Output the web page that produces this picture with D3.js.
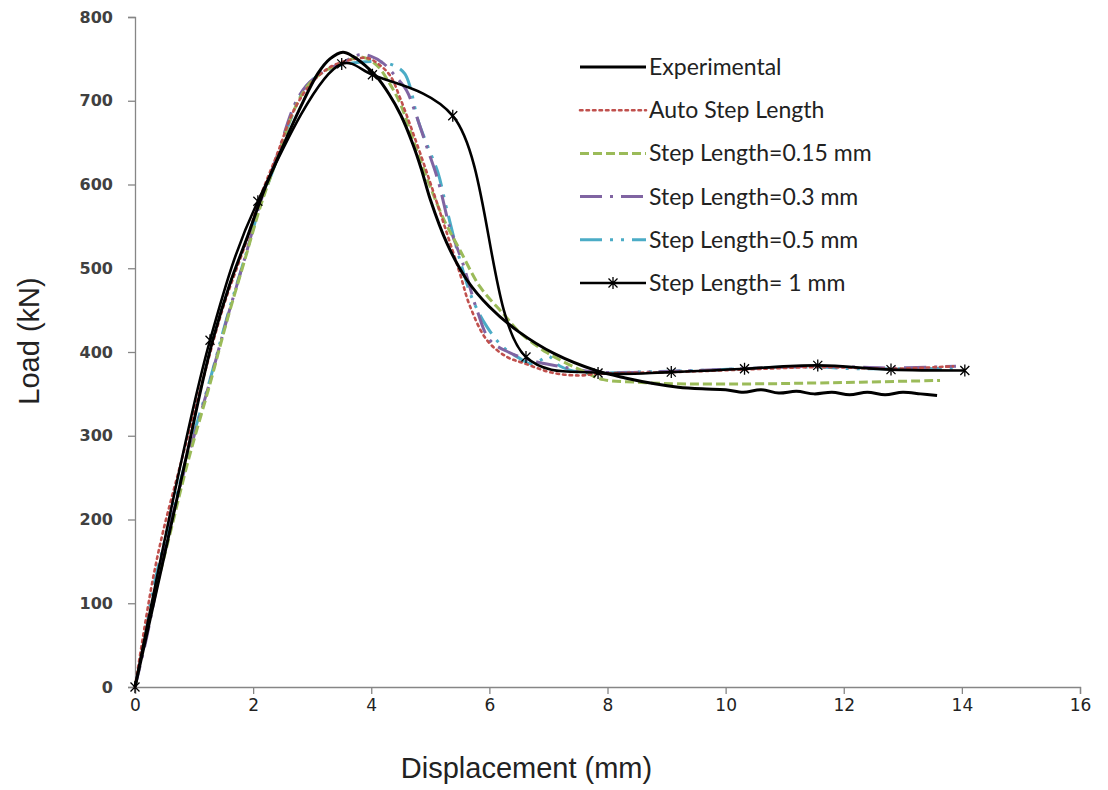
<!DOCTYPE html>
<html>
<head>
<meta charset="utf-8">
<script src="https://cdn.jsdelivr.net/npm/d3@7"></script>
<style>
  body { margin: 0; background: #fff; }
  .tick text { font-family: "DejaVu Sans", sans-serif; }
</style>
</head>
<body>
<div id="chart"></div>
<script>
// series: [displacement mm, load kN]
const experimental = [[0,0],[0.3,95],[0.6,190],[0.9,285],[1.13,360],[1.32,415],[1.61,482],[1.9,537],[2.17,590],[2.5,645],[2.8,692],[3.1,733],[3.3,750],[3.52,758],[3.69,753],[3.9,742],[4.1,728],[4.3,708],[4.5,683],[4.7,649],[4.85,618],[5.0,582],[5.28,530],[5.62,486],[6.0,454],[6.5,424],[7.1,398],[7.8,378],[8.3,369],[8.8,362],[9.2,358],[9.6,356],[10.0,355],[10.3,352],[10.6,355],[10.9,351],[11.2,353],[11.5,350],[11.8,352],[12.1,349],[12.4,352],[12.7,349],[13.0,352],[13.3,350],[13.58,348]]

const autoStep = [[0,0],[0.29,124],[0.48,187],[0.76,263],[1.15,367],[1.5,455],[1.9,535],[2.12,585],[2.4,635],[2.7,690],[3.0,722],[3.3,740],[3.6,748],[3.93,751],[4.1,745],[4.32,730],[4.49,703],[4.71,661],[5.0,602],[5.28,542],[5.5,494],[5.67,455],[5.96,414],[6.3,394],[6.57,387],[7.08,375],[7.53,372],[7.84,374],[9.08,376],[10.3,379],[11.56,382],[12.8,380],[13.85,383]]

const step015 = [[0,0],[0.3,100],[0.6,185],[0.9,270],[1.27,362],[1.56,438],[1.9,520],[2.12,573],[2.4,630],[2.7,690],[2.95,720],[3.2,735],[3.5,745],[3.85,752],[4.1,742],[4.3,722],[4.5,695],[4.75,645],[5.0,597],[5.25,555],[5.5,522],[5.84,478],[6.23,446],[6.52,423],[6.98,399],[7.53,379],[7.93,367],[8.5,364],[9.18,362],[10.58,362],[11.5,363],[12.28,364],[13.63,366]]

const step03 = [[0,0],[0.2,60],[0.5,165],[0.9,275],[1.27,365],[1.56,440],[1.9,522],[2.12,578],[2.4,633],[2.7,695],[2.9,718],[3.2,735],[3.5,745],[3.8,755],[4.0,753],[4.2,745],[4.4,730],[4.6,712],[4.71,693],[4.94,645],[5.13,605],[5.33,549],[5.55,506],[5.79,450],[6.01,414],[6.35,399],[6.7,390],[7.1,384],[7.84,376],[9.08,377],[10.3,380],[11.56,383],[12.8,381],[13.9,383]]

const step05 = [[0,0],[0.15,50],[0.3,115],[0.6,200],[0.9,280],[1.27,367],[1.56,442],[1.9,522],[2.12,575],[2.4,629],[2.62,675],[2.91,718],[3.18,734],[3.47,742],[3.8,746],[4.2,746],[4.44,740],[4.57,732],[4.66,716],[4.79,677],[4.96,645],[5.13,614],[5.28,570],[5.5,510],[5.72,462],[5.96,430],[6.23,406],[6.5,393],[6.7,386],[6.86,390],[7.0,395],[7.2,383],[7.5,376],[7.84,375],[8.5,376],[9.08,377],[10.3,380],[11.0,382],[11.56,382],[12.2,380],[12.8,380],[13.4,380],[13.9,381]]

const step1 = [[0,0],[1.27,414],[2.08,580],[3.5,744],[4.02,731],[5.38,682],[6.62,394],[7.84,375],[9.08,376],[10.32,380],[11.56,384],[12.8,379],[14.05,378]]

const xTicks = [0,2,4,6,8,10,12,14,16]
const yTicks = [0,100,200,300,400,500,600,700,800]

const seriesNames = ["Experimental","Auto Step Length","Step Length=0.15 mm","Step Length=0.3 mm","Step Length=0.5 mm","Step Length= 1 mm"]

const width = 1108
const height = 790
const margin = { top: 17, right: 28, bottom: 103, left: 135 }

const svg = d3.select("#chart")
    .append("svg")
    .attr("width", width)
    .attr("height", height)

const x = d3.scaleLinear([0, 16], [margin.left, width - margin.right])
const y = d3.scaleLinear([0, 800], [height - margin.bottom, margin.top])

// axes
const xAxis = svg.append("g")
    .attr("transform", `translate(0,${y(0)})`)
    .call(d3.axisBottom(x).tickValues(xTicks).tickSize(7).tickPadding(5).tickFormat(d3.format("d")))
xAxis.select(".domain").attr("stroke", "#868686").attr("stroke-width", 1.3)
xAxis.selectAll(".tick line").attr("stroke", "#868686").attr("stroke-width", 1.3)
xAxis.selectAll(".tick text")
    .attr("font-family", "Liberation Sans, Arial, sans-serif")
    .attr("font-size", 17)
    .attr("fill", "#222")

const yAxis = svg.append("g")
    .attr("transform", `translate(${x(0)},0)`)
    .call(d3.axisLeft(y).tickValues(yTicks).tickSize(7).tickPadding(15))
yAxis.select(".domain").attr("stroke", "#868686").attr("stroke-width", 1.3)
yAxis.selectAll(".tick line").attr("stroke", "#868686").attr("stroke-width", 1.3)
yAxis.selectAll(".tick text")
    .attr("font-size", 16)
    .attr("font-weight", "bold")
    .attr("fill", "#404040")

svg.append("text")
    .attr("x", (x(0) + x(16)) / 2 - 81)
    .attr("y", 778)
    .attr("text-anchor", "middle")
    .attr("font-family", "Liberation Sans, Arial, sans-serif")
    .attr("font-size", 29)
    .attr("fill", "#222")
    .text("Displacement (mm)")

svg.append("text")
    .attr("transform", "translate(39,341) rotate(-90)")
    .attr("text-anchor", "middle")
    .attr("font-family", "Liberation Sans, Arial, sans-serif")
    .attr("font-size", 29)
    .attr("fill", "#222")
    .text("Load (kN)")

const line = d3.line()
    .x(d => x(d[0]))
    .y(d => y(d[1]))
    .curve(d3.curveCatmullRom.alpha(0.5))

const styles = [
    { data: experimental, color: "#000", width: 3, dash: null },
    { data: autoStep, color: "#C0504D", width: 2.6, dash: "2.5,4", cap: "round" },
    { data: step015, color: "#9BBB59", width: 3, dash: "9,4" },
    { data: step03, color: "#8064A2", width: 3, dash: "22,8,3,8" },
    { data: step05, color: "#4BACC6", width: 3, dash: "22,8,3,8,3,8" },
    { data: step1, color: "#000", width: 2.6, dash: null }
]

// draw the simulations first, experimental and 1 mm on top
const order = [4, 3, 2, 1, 0, 5]
order.forEach(i => {
    const s = styles[i]
    svg.append("path")
        .datum(s.data)
        .attr("d", line)
        .attr("fill", "none")
        .attr("stroke", s.color)
        .attr("stroke-width", s.width)
        .attr("stroke-dasharray", s.dash)
        .attr("stroke-linecap", s.cap || "butt")
        .attr("stroke-linejoin", "round")
})

const star = "M-4.5,-4.5L4.5,4.5M-4.5,4.5L4.5,-4.5M0,-6L0,6"

svg.append("g")
    .selectAll("path")
    .data(step1)
    .join("path")
    .attr("transform", d => `translate(${x(d[0])},${y(d[1])})`)
    .attr("d", star)
    .attr("stroke", "#000")
    .attr("stroke-width", 1.3)
    .attr("fill", "none")

// legend
const legend = svg.append("g")
    .attr("transform", "translate(580,67)")

seriesNames.forEach((name, i) => {
    const s = styles[i]
    const row = legend.append("g").attr("transform", `translate(0,${i * 43.2})`)
    row.append("line")
        .attr("x1", 0).attr("x2", 66)
        .attr("stroke", s.color)
        .attr("stroke-width", s.width)
        .attr("stroke-dasharray", s.dash)
        .attr("stroke-linecap", s.cap || "butt")
    if (i == 5) {
        row.append("path").attr("d", star).attr("transform", "translate(33,0)")
            .attr("stroke", "#000").attr("stroke-width", 1.3).attr("fill", "none")
    }
    row.append("text")
        .attr("x", 69)
        .attr("y", 8)
        .attr("font-family", "Lato, sans-serif")
        .attr("font-size", 23)
        .attr("fill", "#222")
        .text(name)
})
</script>
</body>
</html>
